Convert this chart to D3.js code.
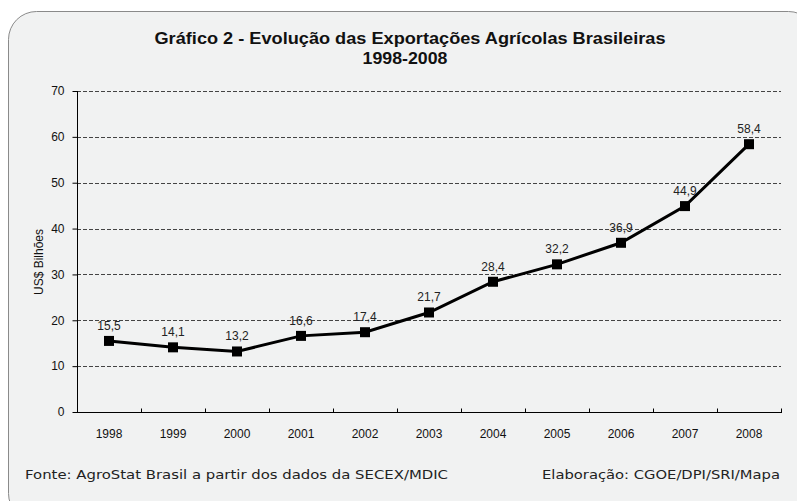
<!DOCTYPE html>
<html>
<head>
<meta charset="utf-8">
<script src="https://cdn.jsdelivr.net/npm/d3@7"></script>
<style>
  body { margin: 0; background: #fff; }
  svg { display: block; }
</style>
</head>
<body>
<div class="chart_area"></div>
<script>
// values
var years = ["1998", "1999", "2000", "2001", "2002", "2003", "2004", "2005", "2006", "2007", "2008"];
var exportsBi = [15.5, 14.1, 13.2, 16.6, 17.4, 21.7, 28.4, 32.2, 36.9, 44.9, 58.4];
var yTicks = [0, 10, 20, 30, 40, 50, 60, 70];

var width = 797, height = 501;
var margin = {left: 77, right: 16, top: 91, bottom: 89};
var fontArial = "Arial, 'Liberation Sans', sans-serif";

var svg = d3.select(".chart_area").append("svg")
  .attr("width", width)
  .attr("height", height);

// panel with rounded corners
svg.append("rect")
  .attr("x", 8.5).attr("y", 11.5)
  .attr("width", 808).attr("height", 510)
  .attr("rx", 28).attr("ry", 28)
  .style("fill", "#f1f2f2")
  .style("stroke", "#8a8a8a")
  .style("stroke-width", 1);

var x = d3.scaleBand()
  .domain(years)
  .range([margin.left, width - margin.right]);

var y = d3.scaleLinear()
  .domain([0, 70])
  .range([height - margin.bottom, margin.top]);

// dashed gridlines
svg.append("g")
  .selectAll("line")
  .data(yTicks.filter(function (d) { return d > 0; }))
  .enter().append("line")
  .attr("x1", margin.left).attr("x2", width - margin.right)
  .attr("y1", function (d) { return Math.round(y(d)) + 0.5; })
  .attr("y2", function (d) { return Math.round(y(d)) + 0.5; })
  .style("stroke", "#444")
  .style("stroke-dasharray", "4,2");

// y axis
var gy = svg.append("g")
  .attr("transform", "translate(" + (margin.left + 0.5) + ",0)")
  .call(d3.axisLeft(y).tickValues(yTicks).tickSize(5).tickPadding(8));
gy.select(".domain").attr("d", "M0," + y(70) + "V" + (y(0) + 0.5));

// x axis
var gx = svg.append("g")
  .attr("transform", "translate(0," + (Math.round(y(0)) + 0.5) + ")")
  .call(d3.axisBottom(x).tickSize(0).tickPadding(17));
gx.select(".domain").remove();
gx.selectAll(".edge")
  .data(years.map(function (d) { return x(d); }).concat([width - margin.right]))
  .enter().append("line")
  .attr("x1", function (d) { return Math.round(d) + 0.5; })
  .attr("x2", function (d) { return Math.round(d) + 0.5; })
  .attr("y1", 0).attr("y2", -4)
  .style("stroke", "#000");
gx.append("line")
  .attr("x1", margin.left).attr("x2", width - margin.right + 1)
  .style("stroke", "#000");

svg.selectAll(".tick text")
  .style("font-family", fontArial)
  .style("font-size", "12px")
  .style("fill", "#111");
svg.selectAll(".tick line").style("stroke", "#000");
svg.selectAll(".domain").style("stroke", "#000");

// y title
svg.append("text")
  .attr("transform", "translate(43,262) rotate(-90)")
  .style("text-anchor", "middle")
  .style("font-family", fontArial)
  .style("font-size", "12px")
  .style("fill", "#111")
  .text("US$ Bilhões");

// line and markers
var cx = function (d, i) { return x(years[i]) + x.bandwidth() / 2; };

svg.append("path")
  .datum(exportsBi)
  .attr("d", d3.line().x(cx).y(function (d) { return y(d); }))
  .style("fill", "none")
  .style("stroke", "#000")
  .style("stroke-width", 3);

svg.selectAll(".marker")
  .data(exportsBi)
  .enter().append("rect")
  .attr("class", "marker")
  .attr("x", function (d, i) { return cx(d, i) - 5; })
  .attr("y", function (d) { return y(d) - 5; })
  .attr("width", 10).attr("height", 10)
  .style("fill", "#000");

svg.selectAll(".vlabel")
  .data(exportsBi)
  .enter().append("text")
  .attr("class", "vlabel")
  .attr("x", cx)
  .attr("y", function (d) { return y(d) - 11; })
  .style("text-anchor", "middle")
  .style("font-family", fontArial)
  .style("font-size", "12px")
  .style("fill", "#222")
  .text(function (d) { return d.toFixed(1).replace(".", ","); });

// title
var title = svg.append("text")
  .style("text-anchor", "middle")
  .style("font-family", fontArial)
  .style("font-size", "17px")
  .style("font-weight", "bold")
  .style("fill", "#111");
title.append("tspan").attr("x", 410).attr("y", 44)
  .attr("textLength", 511).attr("lengthAdjust", "spacingAndGlyphs")
  .text("Gráfico 2 - Evolução das Exportações Agrícolas Brasileiras");
title.append("tspan").attr("x", 405).attr("y", 64)
  .attr("textLength", 85).attr("lengthAdjust", "spacingAndGlyphs")
  .text("1998-2008");

// footer
svg.append("text")
  .attr("x", 25).attr("y", 479)
  .attr("textLength", 423).attr("lengthAdjust", "spacingAndGlyphs")
  .style("font-family", "'DejaVu Sans', Verdana, sans-serif")
  .style("font-size", "12.5px")
  .style("fill", "#222")
  .text("Fonte: AgroStat Brasil a partir dos dados da SECEX/MDIC");

svg.append("text")
  .attr("x", 542).attr("y", 479)
  .attr("textLength", 238).attr("lengthAdjust", "spacingAndGlyphs")
  .style("font-family", "'DejaVu Sans', Verdana, sans-serif")
  .style("font-size", "12.5px")
  .style("fill", "#222")
  .text("Elaboração:  CGOE/DPI/SRI/Mapa");
</script>
</body>
</html>
